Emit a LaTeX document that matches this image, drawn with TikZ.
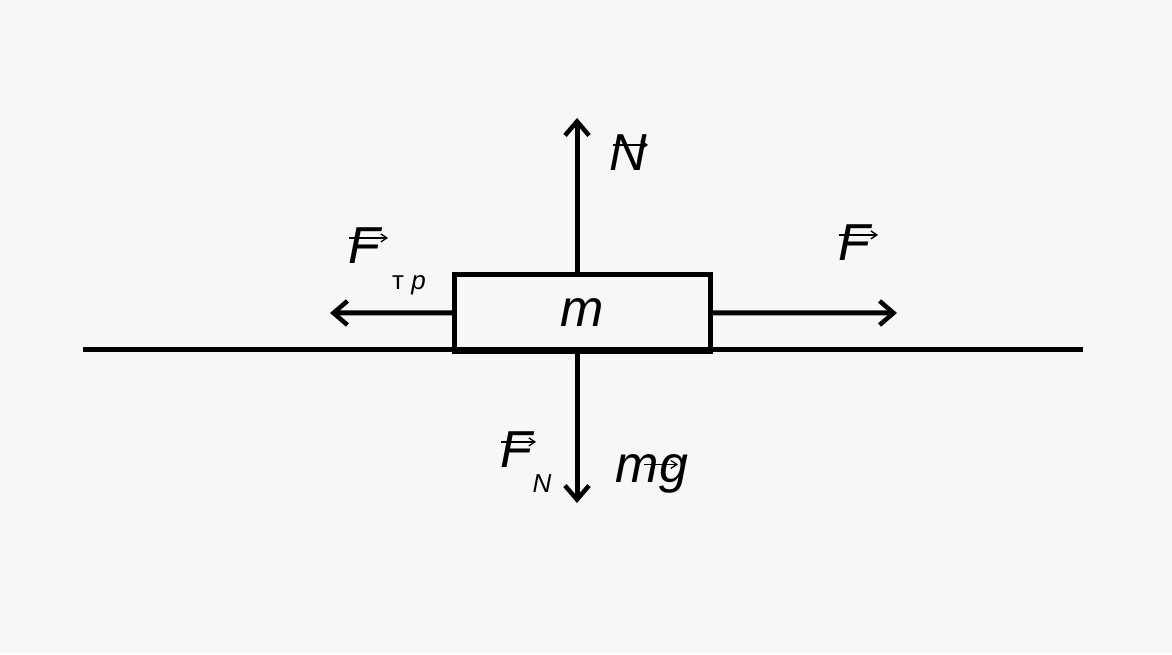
\documentclass[tikz,border=0pt]{standalone}
\usepackage{fontspec}
\setmainfont{Liberation Sans}
\usetikzlibrary{arrows.meta}
\definecolor{bg}{HTML}{F7F7F7}
\begin{document}
\begin{tikzpicture}[x=1pt,y=-1pt,
  ln/.style={line width=5pt},
  ar/.style={ln,-{Straight Barb[length=14pt,width=24pt,line width=4.5pt]}},
  va/.style={line width=1.5pt,-{Straight Barb[length=6pt,width=8pt,line width=1.3pt]}},
  lab/.style={font=\fontsize{52}{56}\selectfont\itshape,inner sep=0pt},
  sub/.style={font=\fontsize{26}{28}\selectfont\itshape,inner sep=0pt}]
\fill[bg] (0,0) rectangle (1172,654);
\useasboundingbox (0,0) rectangle (1172,654);
\coordinate (g1) at (83,349); \coordinate (g2) at (1083,349);
\draw[ln] (g1) -- (g2);
\node[draw,line width=4.5pt,minimum width=256pt,minimum height=77pt,inner sep=0pt,anchor=north west] (box) at (452,272) {};
\node[lab] (m) at (582,313) {m};
\coordinate (nb) at (577,272); \coordinate (nt) at (577,118);
\coordinate (gb) at (577,349); \coordinate (gt) at (577,503);
\coordinate (lt) at (330,313); \coordinate (rt) at (897,313);
\draw[ar] (nb) -- (nt);
\draw[ar] (gb) -- (gt);
\draw[ar] (box.west) -- (lt);
\draw[ar] (box.east) -- (rt);
\node[lab] (N) at (628,153) {N};
\draw[va] ([xshift=-15pt,yshift=-10pt]N.north) -- ([xshift=20pt,yshift=-10pt]N.north);
\node[lab] (F) at (854,243) {F};
\draw[va] ([xshift=-15pt,yshift=-10pt]F.north) -- ([xshift=24pt,yshift=-10pt]F.north);
\node[lab] (Ftr) at (364,246) {F};
\draw[va] ([xshift=-15pt,yshift=-10pt]Ftr.north) -- ([xshift=24pt,yshift=-10pt]Ftr.north);
\node[sub,font=\fontsize{26}{28}\selectfont] (tr) at (409,285) {т \textit{р}};
\node[lab] (FN) at (516,450) {F};
\draw[va] ([xshift=-15pt,yshift=-10pt]FN.north) -- ([xshift=20pt,yshift=-10pt]FN.north);
\node[sub] (Nsub) at (542,484) {N};
\node[lab] (mg) at (652,474) {mg};
\draw[va] ([xshift=-8pt,yshift=-10pt]mg.north) -- ([xshift=26pt,yshift=-10pt]mg.north);
\end{tikzpicture}
\end{document}
